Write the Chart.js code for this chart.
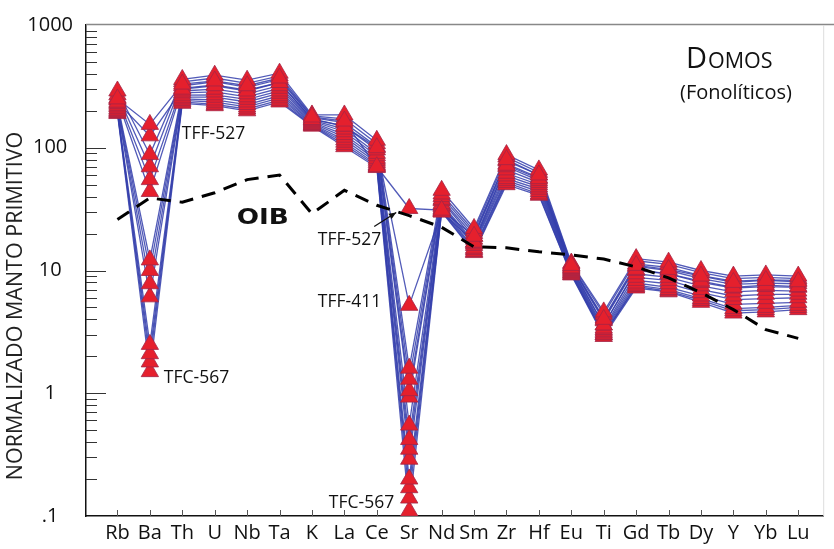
<!DOCTYPE html>
<html>
<head>
<meta charset="utf-8">
<script src="https://cdn.jsdelivr.net/npm/chart.js@4.4.1/dist/chart.umd.min.js"></script>
<style>
  html, body { margin: 0; padding: 0; background: #fff; }
  #wrap { width: 834px; height: 549px; position: relative; }
</style>
</head>
<body>
<div id="wrap"><canvas id="myChart"></canvas></div>
<script>
// Elementos del diagrama multielemento (orden de incompatibilidad)
const elements = ['Rb', 'Ba', 'Th', 'U', 'Nb', 'Ta', 'K', 'La', 'Ce', 'Sr', 'Nd', 'Sm', 'Zr', 'Hf', 'Eu', 'Ti', 'Gd', 'Tb', 'Dy', 'Y', 'Yb', 'Lu'];

// Ejes: decadas y etiquetas
const yTicks = [0.1, 1, 10, 100, 1000];
const yTickLabels = ['.1', '1', '10', '100', '1000'];

// Referencia OIB normalizada a manto primitivo
const oib = [26, 39, 36, 43, 55, 60, 29, 45, 34, 28, 22.5, 15.6, 15.3, 14.2, 13.4, 12.4, 10.7, 8.7, 6.6, 4.8, 3.3, 2.8];

// Domos fonoliticos, normalizados a manto primitivo
const tff527 = [250, 155, 330, 350, 320, 370, 178, 165, 70, 32, 31, 19, 80, 60, 11.0, 4.0, 11.0, 10.2, 9.0, 8.0, 8.3, 8.1];
const tff411 = [235, 125, 300, 320, 290, 340, 170, 150, 100, 5.2, 30, 17, 72, 56, 10.5, 3.6, 10.2, 9.4, 8.2, 7.3, 7.6, 7.4];
const dom03 = [290, 88, 360, 390, 355, 405, 185, 185, 115, 1.6, 45, 22, 88, 66, 11.5, 4.6, 12.5, 11.7, 10.0, 9.0, 9.2, 9.0];
const dom04 = [270, 70, 345, 370, 335, 385, 182, 172, 108, 1.3, 42, 21, 84, 63, 11.3, 4.4, 12.0, 11.2, 9.6, 8.6, 8.8, 8.6];
const dom05 = [255, 55, 320, 345, 310, 360, 176, 160, 102, 1.05, 40, 20, 78, 60, 11.0, 4.1, 11.3, 10.6, 9.1, 8.2, 8.4, 8.3];
const dom06 = [245, 44, 305, 325, 295, 340, 172, 150, 96, 0.93, 38, 19, 74, 57, 10.7, 3.9, 10.8, 10.0, 8.6, 7.7, 7.9, 7.8];
const dom07 = [230, 12.2, 290, 300, 275, 320, 168, 142, 90, 0.55, 37, 18, 70, 54, 10.4, 3.6, 10.0, 9.4, 8.0, 7.2, 7.4, 7.3];
const dom08 = [222, 10, 280, 285, 260, 305, 165, 135, 86, 0.42, 35, 17, 66, 52, 10.2, 3.4, 9.4, 8.8, 7.5, 6.7, 6.9, 6.8];
const dom09 = [215, 7.8, 268, 270, 248, 290, 162, 128, 82, 0.35, 34, 16.5, 62, 50, 10.0, 3.3, 8.8, 8.3, 7.0, 6.2, 6.4, 6.4];
const dom10 = [208, 6.1, 258, 258, 236, 278, 159, 122, 79, 0.29, 33, 16, 59, 48, 9.8, 3.2, 8.3, 7.8, 6.6, 5.8, 5.9, 6.0];
const dom11 = [202, 2.5, 250, 245, 225, 265, 156, 116, 76, 0.2, 32, 15.2, 56, 46, 9.6, 3.1, 7.9, 7.3, 6.2, 5.3, 5.4, 5.5];
const dom12 = [198, 2.1, 243, 235, 215, 255, 154, 111, 73, 0.17, 31, 14.8, 54, 44, 9.5, 3.0, 7.6, 7.0, 5.9, 4.9, 5.0, 5.2];
const dom13 = [194, 1.8, 236, 226, 207, 244, 152, 106, 71, 0.14, 30.5, 14.3, 52, 42, 9.3, 3.0, 7.4, 6.8, 5.7, 4.7, 4.8, 5.0];
const tfc567 = [190, 1.5, 230, 220, 200, 236, 150, 102, 69, 0.11, 30, 14, 50, 41, 9.2, 2.9, 7.2, 6.7, 5.5, 4.5, 4.6, 4.8];

const samples = [tff527, tff411, dom03, dom04, dom05, dom06, dom07, dom08, dom09, dom10, dom11, dom12, dom13, tfc567];

const FONT = '"Open Sans", "DejaVu Sans", sans-serif';
const toPoints = vals => vals.map((v, i) => ({ x: i, y: v }));

// lines underneath, triangles above them, OIB dashed on top
const lineSets = samples.map(vals => ({
    data: toPoints(vals),
    borderColor: 'rgba(52, 62, 172, 0.85)',
    borderWidth: 1.3,
    pointRadius: 0,
    order: 2
}));
const markerSets = samples.map(vals => ({
    data: toPoints(vals),
    showLine: false,
    pointStyle: 'triangle',
    pointRadius: 10,
    backgroundColor: '#e5202d',
    borderColor: '#a32446',
    borderWidth: 0.8,
    order: 1
}));
const oibSet = {
    data: toPoints(oib),
    borderColor: '#000',
    borderWidth: 3,
    borderDash: [14, 9],
    pointRadius: 0,
    order: 0
};

// inward tick marks and the grey frame
const frameTicks = {
    id: 'frameTicks',
    beforeDatasetsDraw(chart) {
        const { ctx, chartArea: a, scales: { x, y } } = chart;
        ctx.save();
        ctx.strokeStyle = '#888';
        ctx.lineWidth = 1.5;
        ctx.beginPath();
        ctx.moveTo(a.left, a.top - 0.5);
        ctx.lineTo(834, a.top - 0.5);
        ctx.stroke();
        ctx.strokeStyle = '#ddd';
        ctx.lineWidth = 1;
        ctx.beginPath();
        ctx.moveTo(a.right + 0.5, a.top);
        ctx.lineTo(a.right + 0.5, a.bottom);
        ctx.stroke();

        ctx.strokeStyle = '#333';
        ctx.lineWidth = 1;
        for (let d = 0; d < 4; d++) {
            const base = yTicks[d];
            for (let m = 1; m < 10; m++) {
                if (d === 0 && m === 1) continue;
                const py = Math.round(y.getPixelForValue(base * m)) + 0.5;
                const len = m === 1 ? 20 : 11;
                ctx.beginPath();
                ctx.moveTo(a.left, py);
                ctx.lineTo(a.left + len, py);
                ctx.stroke();
            }
        }
        ctx.strokeStyle = '#555';
        elements.forEach((_, i) => {
            const px = Math.round(x.getPixelForValue(i)) + 0.5;
            ctx.beginPath();
            ctx.moveTo(px, a.bottom);
            ctx.lineTo(px, a.bottom - 6);
            ctx.stroke();
        });
        ctx.restore();
    }
};

// sample labels, OIB label, arrow, title and axis title
const labels = {
    id: 'labels',
    afterDatasetsDraw(chart) {
        const { ctx, scales: { x, y } } = chart;
        const px = i => x.getPixelForValue(i);
        const py = v => y.getPixelForValue(v);
        const iBa = elements.indexOf('Ba');
        const iSr = elements.indexOf('Sr');
        ctx.save();
        ctx.fillStyle = '#111';
        ctx.textBaseline = 'middle';
        ctx.font = '17.5px ' + FONT;

        ctx.textAlign = 'left';
        ctx.fillText('TFF-527', px(iBa) + 32, py(tff527[iBa]) + 10);
        ctx.fillText('TFC-567', px(iBa) + 14, py(tfc567[iBa]) + 6);

        ctx.textAlign = 'right';
        const srX = px(iSr), srY = py(tff527[iSr]);
        ctx.fillText('TFF-527', srX - 28, srY + 32);
        ctx.fillText('TFF-411', srX - 28, py(tff411[iSr]) - 3);
        ctx.fillText('TFC-567', srX - 15, py(tfc567[iSr]) - 8);

        // arrow towards TFF-527 in Sr
        const x0 = srX - 35, y0 = srY + 18, x1 = srX - 13, y1 = srY + 4;
        const ang = Math.atan2(y1 - y0, x1 - x0);
        ctx.strokeStyle = '#111';
        ctx.lineWidth = 1.3;
        ctx.beginPath();
        ctx.moveTo(x0, y0);
        ctx.lineTo(x1, y1);
        ctx.stroke();
        ctx.beginPath();
        ctx.moveTo(x1, y1);
        ctx.lineTo(x1 - 8 * Math.cos(ang - 0.4), y1 - 8 * Math.sin(ang - 0.4));
        ctx.lineTo(x1 - 8 * Math.cos(ang + 0.4), y1 - 8 * Math.sin(ang + 0.4));
        ctx.closePath();
        ctx.fill();

        // OIB
        ctx.save();
        ctx.translate(px(4.48), py(26.3));
        ctx.scale(1.25, 1);
        ctx.textAlign = 'center';
        ctx.font = 'bold 21px "DejaVu Sans", sans-serif';
        ctx.fillText('OIB', 0, 0);
        ctx.restore();

        // DOMOS (versalitas) y (Fonolíticos)
        ctx.textAlign = 'left';
        ctx.textBaseline = 'alphabetic';
        ctx.font = '29px ' + FONT;
        ctx.fillText('D', 686, 68);
        const dw = ctx.measureText('D').width;
        ctx.font = '21.5px ' + FONT;
        ctx.fillText('OMOS', 686 + dw + 1, 68);
        ctx.font = '20px ' + FONT;
        ctx.fillText('(Fonolíticos)', 680, 99);

        // axis title
        ctx.save();
        ctx.translate(22, 306);
        ctx.rotate(-Math.PI / 2);
        ctx.textAlign = 'center';
        ctx.font = '21.5px ' + FONT;
        ctx.fillStyle = '#222';
        ctx.fillText('NORMALIZADO MANTO PRIMITIVO', 0, 0);
        ctx.restore();
        ctx.restore();
    }
};

const ctx = document.getElementById('myChart').getContext('2d');
const chart = new Chart(ctx, {
    type: 'line',
    data: { datasets: [...lineSets, ...markerSets, oibSet] },
    options: {
        responsive: true,
        maintainAspectRatio: false,
        animation: false,
        layout: { padding: { top: 25, right: 2, left: 0, bottom: 0 } },
        plugins: { legend: { display: false }, tooltip: { enabled: false } },
        scales: {
            x: {
                type: 'linear',
                min: -0.97,
                max: 21.77,
                grid: { display: false, drawTicks: false },
                border: { display: true, color: '#111', width: 1.5 },
                afterBuildTicks: s => { s.ticks = elements.map((_, i) => ({ value: i })); },
                afterFit: s => { s.height = 33; },
                ticks: {
                    autoSkip: false,
                    maxRotation: 0,
                    padding: 5,
                    color: '#111',
                    font: { family: FONT, size: 20 },
                    callback: (v, i) => elements[i]
                }
            },
            y: {
                type: 'logarithmic',
                min: 0.1,
                max: 1000,
                grid: { display: false, drawTicks: false },
                border: { display: true, color: '#111', width: 1.5 },
                afterBuildTicks: s => { s.ticks = yTicks.map(v => ({ value: v })); },
                afterFit: s => { s.width = 86; },
                ticks: {
                    crossAlign: 'center',
                    padding: 13,
                    color: '#111',
                    font: { family: FONT, size: 20 },
                    callback: (v, i) => yTickLabels[i]
                }
            }
        }
    },
    plugins: [frameTicks, labels]
});
</script>
</body>
</html>
